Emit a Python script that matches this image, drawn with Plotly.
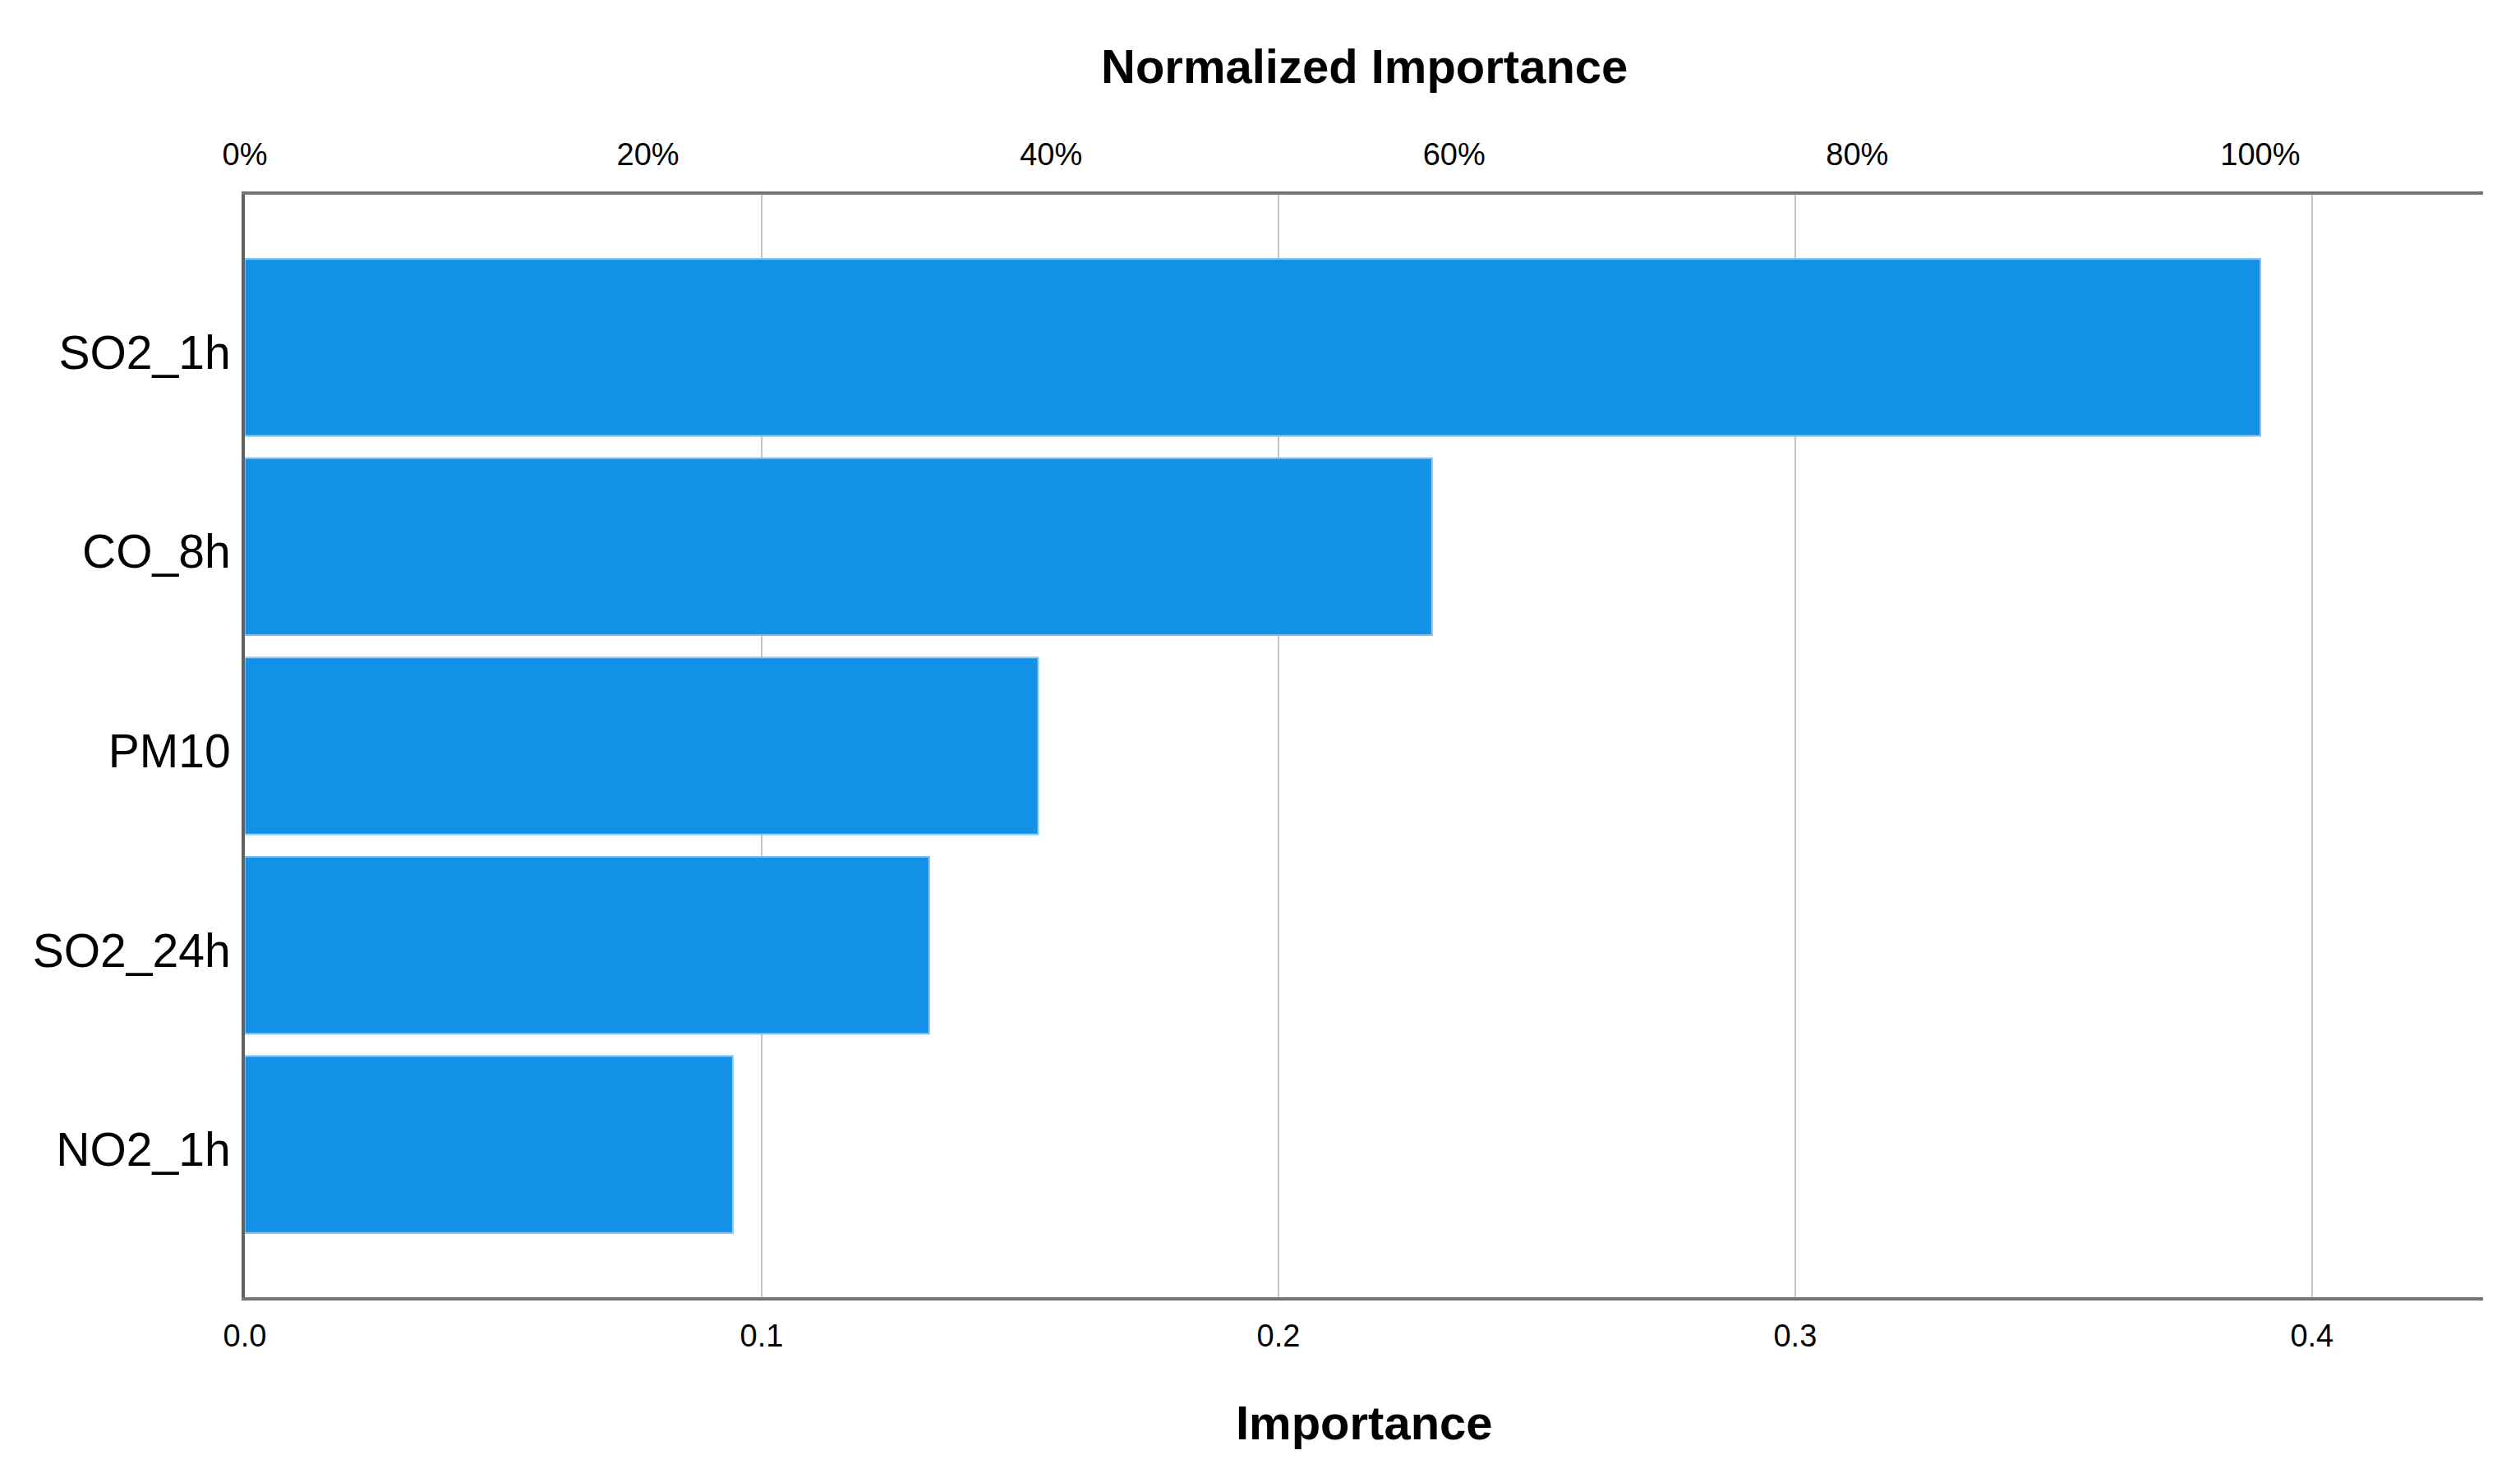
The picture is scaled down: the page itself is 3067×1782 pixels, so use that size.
import plotly.graph_objects as go

categories = ["SO2_1h", "CO_8h", "PM10", "SO2_24h", "NO2_1h"]
importance = [0.390, 0.2297, 0.1535, 0.1324, 0.0944]
bottom_ticks = [0.0, 0.1, 0.2, 0.3, 0.4]
bottom_tick_labels = ["0.0", "0.1", "0.2", "0.3", "0.4"]
top_ticks = [0.0, 0.2, 0.4, 0.6, 0.8, 1.0]
top_tick_labels = ["0%", "20%", "40%", "60%", "80%", "100%"]

max_imp = max(importance)
normalized = [v / max_imp for v in importance]
x_max = 0.4331

W, H = 3067, 1782
L, R, T, B = 290, 53, 229, 211
ph = H - T - B

fig = go.Figure()
fig.add_trace(go.Bar(
    x=importance, y=categories, orientation="h",
    marker=dict(color="#1391e6", line=dict(color="#5db0ee", width=2)),
    width=0.887, hoverinfo="skip", showlegend=False,
))
fig.add_trace(go.Bar(
    x=normalized, y=categories, orientation="h", xaxis="x2",
    marker=dict(color="rgba(0,0,0,0)"), width=0.887,
    hoverinfo="skip", showlegend=False,
))

font = "Liberation Sans, Arial, sans-serif"
fig.update_layout(
    width=W, height=H,
    margin=dict(l=L, r=R, t=T, b=B),
    paper_bgcolor="white", plot_bgcolor="white",
    barmode="overlay",
    font=dict(family=font, color="#000000"),
    xaxis=dict(
        range=[0, x_max], tickvals=bottom_ticks, ticktext=bottom_tick_labels,
        showgrid=True, gridcolor="#c4c4c4", gridwidth=2,
        showline=True, linecolor="#737373", linewidth=4, mirror=True,
        ticks="outside", ticklen=10, tickcolor="rgba(0,0,0,0)",
        tickfont=dict(size=38, family=font), zeroline=False,
    ),
    xaxis2=dict(
        range=[0, x_max / max_imp], overlaying="x", side="top",
        tickvals=top_ticks, ticktext=top_tick_labels,
        showgrid=False, showline=False, zeroline=False,
        ticks="outside", ticklen=20, tickcolor="rgba(0,0,0,0)",
        tickfont=dict(size=38, family=font),
    ),
    yaxis=dict(
        categoryorder="array", categoryarray=categories,
        range=[len(categories) - 1 + 0.766, -0.766],
        showline=True, linecolor="#606060", linewidth=4,
        showgrid=False, zeroline=False,
        ticks="outside", ticklen=2, tickcolor="rgba(0,0,0,0)",
        ticklabelshift=-6,
        tickfont=dict(size=57, family=font),
    ),
    annotations=[
        dict(text="<b>Normalized Importance</b>", xref="paper", yref="paper",
             x=0.5, y=(H - B - 72) / ph, xanchor="center", yanchor="middle",
             showarrow=False, font=dict(size=58, family=font)),
        dict(text="<b>Importance</b>", xref="paper", yref="paper",
             x=0.5, y=(H - B - 1723) / ph, xanchor="center", yanchor="middle",
             showarrow=False, font=dict(size=58, family=font)),
    ],
)

fig.write_html("out.html")
